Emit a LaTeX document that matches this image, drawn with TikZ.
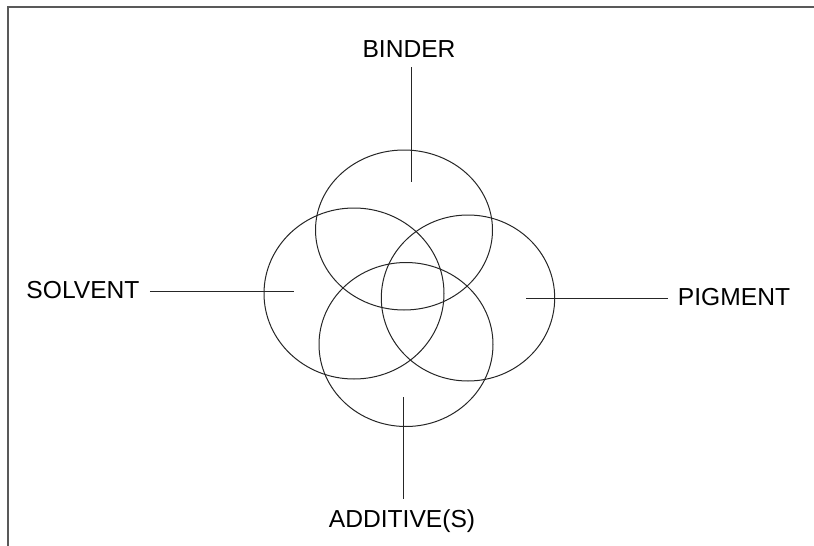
\documentclass[tikz,border=0pt]{standalone}
\usepackage{fontspec}
\setmainfont{Liberation Sans}
\usetikzlibrary{positioning}
\begin{document}
\begin{tikzpicture}[x=0.5pt, y=-0.5pt,
    ring/.style={draw=black!85, line width=0.5pt},
    lead/.style={draw=black!85, line width=0.5pt},
    tag/.style={font=\fontsize{12.3}{14}\selectfont, inner sep=5pt, anchor=base}]
    \useasboundingbox (0,0) rectangle (814,546);
    \draw[line width=1pt, black!65] (8,546) -- (8,7) -- (814,7);

    % the four components
    \coordinate (cbinder) at (404,230);
    \coordinate (csolvent) at (354,293.5);
    \coordinate (cpigment) at (468,298);
    \coordinate (cadditive) at (406,344.5);
    \draw[ring] (cbinder) ellipse [x radius=88.5, y radius=80];
    \draw[ring] (csolvent) ellipse [x radius=90, y radius=85.5];
    \draw[ring] (cpigment) ellipse [x radius=86.7, y radius=83];
    \draw[ring] (cadditive) ellipse [x radius=87, y radius=82];

    % labels
    \node[tag] (lbinder) at (409,57) {BINDER};
    \node[tag] (lsolvent) at (83,298) {SOLVENT};
    \node[tag] (lpigment) at (734,305) {PIGMENT};
    \node[tag] (ladditive) at (402,527) {ADDITIVE(S)};

    % leader lines
    \coordinate (tbinder) at (411,182);
    \coordinate (tsolvent) at (294,291);
    \coordinate (tpigment) at (526,298);
    \coordinate (tadditive) at (403,397);
    \draw[lead] (lbinder.south -| tbinder) -- (tbinder);
    \draw[lead] (lsolvent.east |- tsolvent) -- (tsolvent);
    \draw[lead] (lpigment.west |- tpigment) -- (tpigment);
    \draw[lead] (ladditive.north -| tadditive) -- (tadditive);
\end{tikzpicture}
\end{document}
